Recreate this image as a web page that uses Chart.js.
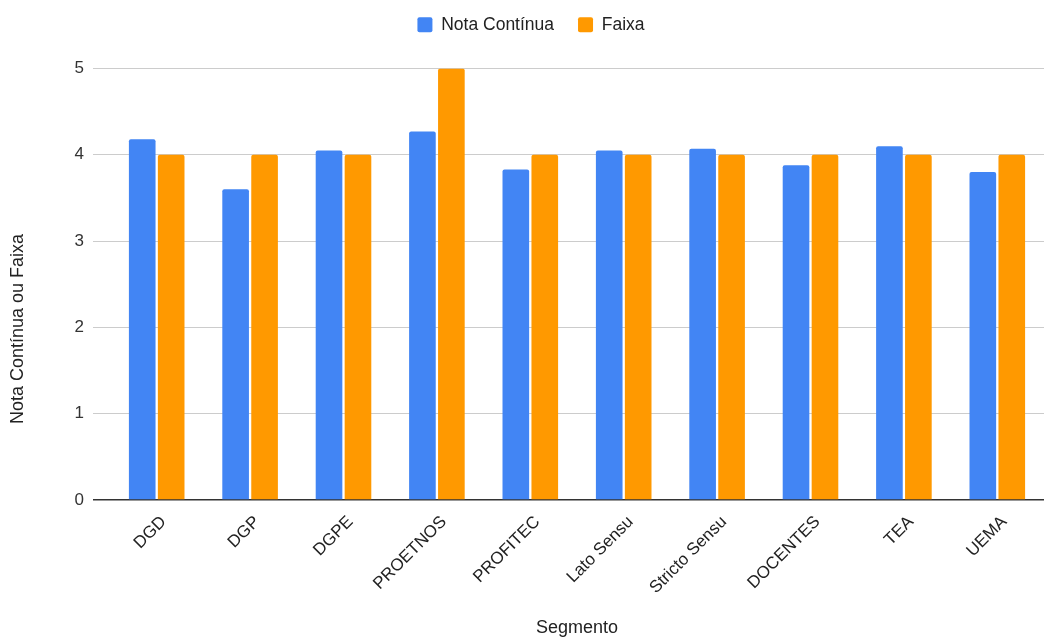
<!DOCTYPE html>
<html>
<head>
<meta charset="utf-8">
<script src="https://cdn.jsdelivr.net/npm/chart.js@4/dist/chart.umd.min.js"></script>
<style>
  html, body { margin: 0; padding: 0; background: #fff; }
  #wrap { width: 1051px; height: 637px; position: relative; }
</style>
</head>
<body>
<div id="wrap"><canvas id="chart"></canvas></div>
<script>
// data
var segmentos = ['DGD', 'DGP', 'DGPE', 'PROETNOS', 'PROFITEC', 'Lato Sensu', 'Stricto Sensu', 'DOCENTES', 'TEA', 'UEMA'];
var notaContinua = [4.18, 3.60, 4.05, 4.27, 3.83, 4.05, 4.07, 3.88, 4.10, 3.80];
var faixa = [4, 4, 4, 5, 4, 4, 4, 4, 4, 4];
var yTicks = [0, 1, 2, 3, 4, 5];

var FONT = 'Arial, "Liberation Sans", sans-serif';

// y axis title, drawn lower than the scale's own centre like the original
var yTitlePlugin = {
    id: 'yTitle',
    afterLayout: function (chart) {
        // legend sits higher and a bit right of where the layout puts it
        var lg = chart.legend;
        lg.top -= 25; lg.bottom -= 25;
        lg.left += 9; lg.right += 9;
    },
    afterDraw: function (chart) {
        var ctx = chart.ctx;
        ctx.save();
        ctx.translate(18.5, 329);
        ctx.rotate(-Math.PI / 2);
        ctx.font = '18px ' + FONT;
        ctx.fillStyle = '#222';
        ctx.textAlign = 'center';
        ctx.textBaseline = 'middle';
        ctx.fillText('Nota Contínua ou Faixa', 0, 0);
        ctx.restore();
    }
};

new Chart(document.getElementById('chart'), {
    type: 'bar',
    data: {
        labels: segmentos,
        datasets: [{
            label: 'Nota Contínua',
            data: notaContinua,
            backgroundColor: '#4285F4',
            borderRadius: 2,
            categoryPercentage: 0.62,
            barPercentage: 0.92
        }, {
            label: 'Faixa',
            data: faixa,
            backgroundColor: '#FF9900',
            borderRadius: 2,
            categoryPercentage: 0.62,
            barPercentage: 0.92
        }]
    },
    options: {
        responsive: true,
        maintainAspectRatio: false,
        animation: false,
        layout: { padding: { top: 17, left: 0, right: 7, bottom: 0 } },
        plugins: {
            tooltip: { enabled: false },
            legend: {
                position: 'top',
                align: 'center',
                labels: {
                    boxWidth: 15,
                    boxHeight: 15,
                    useBorderRadius: true,
                    borderRadius: 2,
                    padding: 24,
                    color: '#222',
                    font: { family: FONT, size: 17.5 }
                }
            }
        },
        scales: {
            x: {
                grid: { display: false },
                border: { display: false },
                ticks: {
                    color: '#222',
                    minRotation: 45,
                    maxRotation: 45,
                    padding: 4,
                    labelOffset: 7,
                    font: { family: FONT, size: 17 }
                },
                title: {
                    display: true,
                    text: 'Segmento',
                    color: '#222',
                    padding: { top: 0, bottom: -2 },
                    font: { family: FONT, size: 18 }
                },
                afterFit: function (scale) { scale.height = 137; }
            },
            y: {
                min: 0,
                max: 5,
                afterBuildTicks: function (scale) {
                    scale.ticks = yTicks.map(function (v) { return { value: v }; });
                },
                border: { display: false },
                grid: {
                    drawTicks: true,
                    tickLength: 17,
                    lineWidth: function (c) { return c.tick && c.tick.value === 0 ? 1.5 : 1; },
                    color: function (c) { return c.tick && c.tick.value === 0 ? '#333' : '#cccccc'; }
                },
                ticks: {
                    color: '#333',
                    padding: 9,
                    font: { family: FONT, size: 17 }
                },
                afterFit: function (scale) { scale.width = 110; }
            }
        }
    },
    plugins: [yTitlePlugin]
});
</script>
</body>
</html>
